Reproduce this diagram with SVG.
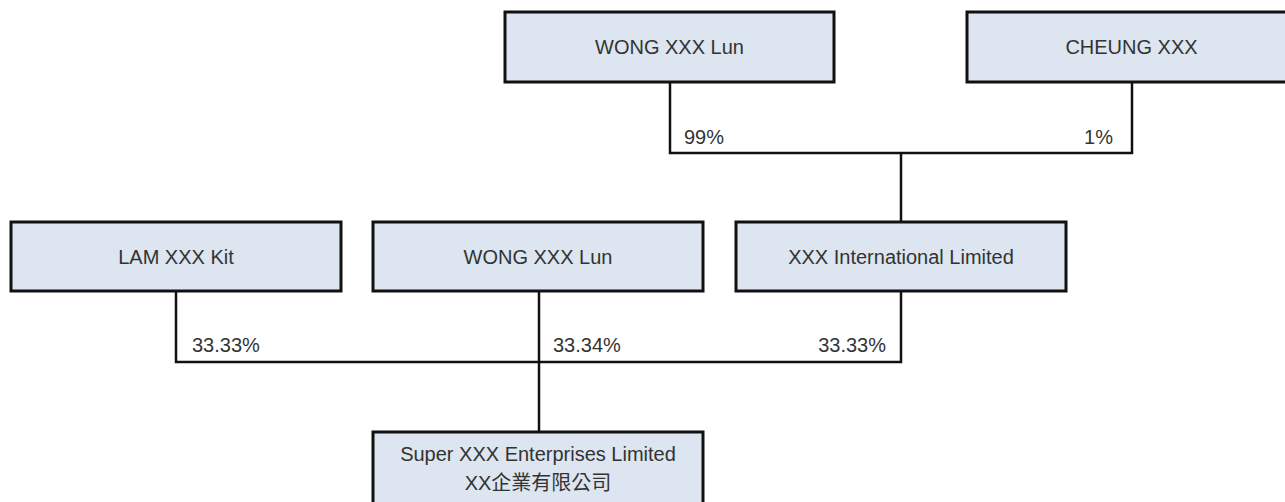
<svg xmlns="http://www.w3.org/2000/svg" width="1285" height="502" viewBox="0 0 1285 502">
<style>
.box{fill:#dce5f0;stroke:#111;stroke-width:3}
.t{font-family:"Liberation Sans",Arial,"Noto Sans CJK TC",sans-serif;font-size:20px;fill:#333}
.c{text-anchor:middle}
.e{text-anchor:end}
.ln{fill:none;stroke:#111;stroke-width:2.5}
</style>
<rect width="1285" height="502" fill="#fff"/>
<g id="connectors">
<path class="ln" d="M670,82 V153 H1132 V82"/>
<path class="ln" d="M901,153 V222"/>
<path class="ln" d="M176,291 V362 H901 V291"/>
<path class="ln" d="M539,291 V432"/>
<text class="t" x="684" y="144">99%</text>
<text class="t e" x="1113" y="144">1%</text>
<text class="t" x="192" y="352">33.33%</text>
<text class="t" x="553" y="352">33.34%</text>
<text class="t e" x="886" y="352">33.33%</text>
</g>
<g id="wong-top">
<rect class="box" x="505" y="12" width="329" height="70"/>
<text class="t c" x="669.5" y="54">WONG XXX Lun</text>
</g>
<g id="cheung">
<rect class="box" x="967" y="12" width="329" height="70"/>
<text class="t c" x="1131.5" y="54">CHEUNG XXX</text>
</g>
<g id="lam">
<rect class="box" x="11" y="222" width="330" height="69"/>
<text class="t c" x="176" y="264">LAM XXX Kit</text>
</g>
<g id="wong-mid">
<rect class="box" x="373" y="222" width="330" height="69"/>
<text class="t c" x="538" y="264">WONG XXX Lun</text>
</g>
<g id="international">
<rect class="box" x="736" y="222" width="330" height="69"/>
<text class="t c" x="901" y="264">XXX International Limited</text>
</g>
<g id="super">
<rect class="box" x="373" y="432" width="330" height="100"/>
<text class="t c" x="538" y="461">Super XXX Enterprises Limited</text>
<text class="t c" x="538" y="490">XX企業有限公司</text>
</g>
</svg>
